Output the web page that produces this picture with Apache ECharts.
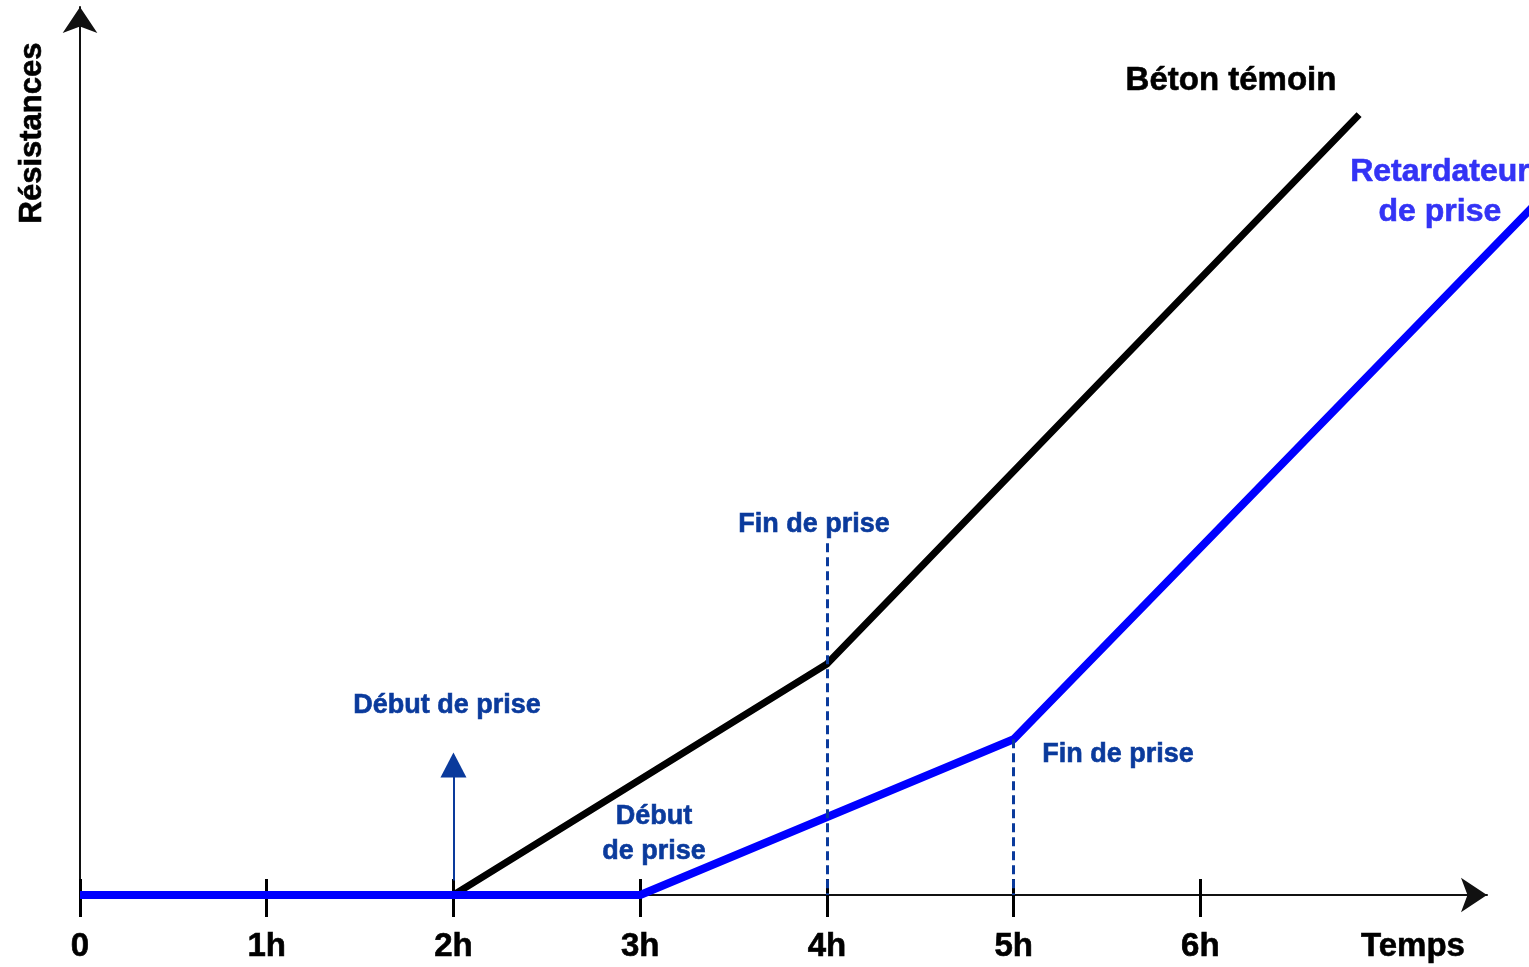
<!DOCTYPE html>
<html>
<head>
<meta charset="utf-8">
<script src="https://cdn.jsdelivr.net/npm/echarts@6/dist/echarts.min.js"></script>
<style>
  html, body { margin: 0; padding: 0; background: #fff; }
  #chart { width: 1529px; height: 967px; }
</style>
</head>
<body>
<div id="chart"></div>
<script>
// time axis (hours) and tick labels
const hours = [0, 1, 2, 3, 4, 5, 6];
const tickLabels = ['0', '1h', '2h', '3h', '4h', '5h', '6h'];

// Béton témoin (reference concrete)
const betonX = [0, 2, 4, 6.85];
const betonY = [0, 0, 26.4, 89.2];

// Retardateur de prise (set retarder)
const retardX = [0, 3, 5, 7.8];
const retardY = [0, 0, 17.8, 79.1];

// "Fin de prise" dashed markers: hour and top value
const finPriseX = [4, 5];
const finPriseTop = [40.2, 17.8];

// "Début de prise" arrow at 2h: from / to value
const debutArrowX = 2;
const debutArrowY = [1.66, 14.87];

// annotation texts and their data positions
const annTexts = ['Béton témoin', 'Retardateur\nde prise', 'Fin de prise', 'Début de prise', 'Début\nde prise', 'Fin de prise'];
const annX = [6.164, 7.283, 3.931, 1.965, 3.074, 5.559];
const annY = [93.0, 80.3, 42.4, 21.6, 7.0, 16.1];

const FONT = '"Liberation Sans", Arial, sans-serif';
const DARK_BLUE = '#0a3a9c';
const annColors = ['#000000', '#3333f5', DARK_BLUE, DARK_BLUE, DARK_BLUE, DARK_BLUE];
const annSizes = [33, 32, 27, 27, 27, 27];

// same px-per-hour on both grids: plot grid runs to the page edge,
// axis grid stops at the arrow tip
const X_MAX_PLOT = 7.76;
const X_MAX_AXIS = 7.535;
const Y_MAX = 101.5;

const zip = (xs, ys) => xs.map((x, i) => [x, ys[i]]);

const chart = echarts.init(document.getElementById('chart'));

const boldText = (size, color) => ({
    color: color,
    fontFamily: FONT,
    fontWeight: 'bold',
    fontSize: size,
    textBorderColor: color,
    textBorderWidth: 0.6
});

const option = {
    animation: false,
    backgroundColor: '#ffffff',
    grid: [
        { left: 80, right: 0, top: 7, bottom: 72 },
        { left: 80, right: 42, top: 7, bottom: 72 }
    ],
    xAxis: [
        {
            gridIndex: 0,
            type: 'value',
            min: 0,
            max: X_MAX_PLOT,
            splitLine: { show: false },
            axisLine: { show: false },
            axisTick: { show: false },
            axisLabel: { show: false }
        },
        {
            gridIndex: 1,
            type: 'value',
            position: 'bottom',
            min: 0,
            max: X_MAX_AXIS,
            interval: 1,
            splitLine: { show: false },
            axisLine: {
                lineStyle: { color: '#111', width: 2 },
                symbol: ['none', 'arrow'],
                symbolSize: [26, 26]
            },
            axisTick: {
                show: true,
                length: 22,
                customValues: hours,
                lineStyle: { color: '#000', width: 3 }
            },
            axisLabel: Object.assign({
                customValues: hours,
                formatter: v => tickLabels[hours.indexOf(v)],
                margin: 35
            }, boldText(33, '#000')),
            name: 'Temps',
            nameLocation: 'end',
            nameGap: -74,
            nameTextStyle: Object.assign({
                align: 'center',
                verticalAlign: 'top',
                padding: [35, 0, 0, 0]
            }, boldText(33, '#000'))
        },
        {
            // ticks above the line
            gridIndex: 1,
            type: 'value',
            position: 'bottom',
            min: 0,
            max: X_MAX_AXIS,
            interval: 1,
            splitLine: { show: false },
            axisLine: { show: false },
            axisTick: {
                show: true,
                inside: true,
                length: 16,
                customValues: hours,
                lineStyle: { color: '#000', width: 3 }
            },
            axisLabel: { show: false }
        }
    ],
    yAxis: [
        {
            gridIndex: 0,
            type: 'value',
            min: 0,
            max: Y_MAX,
            splitLine: { show: false },
            axisTick: { show: false },
            axisLabel: { show: false },
            axisLine: {
                show: true,
                lineStyle: { color: '#111', width: 2 },
                symbol: ['none', 'arrow'],
                symbolSize: [26, 26]
            },
            name: 'Résistances',
            nameLocation: 'end',
            nameRotate: 90,
            nameGap: -126,
            nameTextStyle: Object.assign({
                align: 'center',
                verticalAlign: 'bottom',
                padding: [0, 0, 32, 0]
            }, boldText(31, '#000'))
        },
        {
            gridIndex: 1,
            type: 'value',
            min: 0,
            max: Y_MAX,
            show: false
        }
    ],
    series: [
        {
            name: 'Béton témoin',
            type: 'line',
            xAxisIndex: 0,
            yAxisIndex: 0,
            data: zip(betonX, betonY),
            symbol: 'none',
            lineStyle: { color: '#000', width: 7 },
            silent: true,
            markLine: {
                silent: true,
                symbol: ['none', 'triangle'],
                symbolSize: [26, 25],
                label: { show: false },
                lineStyle: { color: DARK_BLUE, width: 2, type: 'solid' },
                data: [[
                    { coord: [debutArrowX, debutArrowY[0]] },
                    { coord: [debutArrowX, debutArrowY[1]] }
                ]]
            },
            markPoint: {
                silent: true,
                symbol: 'circle',
                symbolSize: 1,
                itemStyle: { color: 'transparent' },
                data: annTexts.map((t, i) => ({
                    coord: [annX[i], annY[i]],
                    label: Object.assign({
                        show: true,
                        position: 'inside',
                        formatter: t,
                        lineHeight: annSizes[i] + 8,
                        align: 'center'
                    }, boldText(annSizes[i], annColors[i]))
                }))
            }
        },
        {
            name: 'Retardateur de prise',
            type: 'line',
            xAxisIndex: 0,
            yAxisIndex: 0,
            data: zip(retardX, retardY),
            symbol: 'none',
            clip: false,
            lineStyle: { color: '#0000ff', width: 8 },
            silent: true,
            markLine: {
                silent: true,
                symbol: ['none', 'none'],
                label: { show: false },
                lineStyle: { color: DARK_BLUE, width: 3, type: [9, 5] },
                data: finPriseX.map((x, i) => [
                    { coord: [x, finPriseTop[i]] },
                    { coord: [x, 0] }
                ])
            }
        }
    ]
};

chart.setOption(option);
</script>
</body>
</html>
